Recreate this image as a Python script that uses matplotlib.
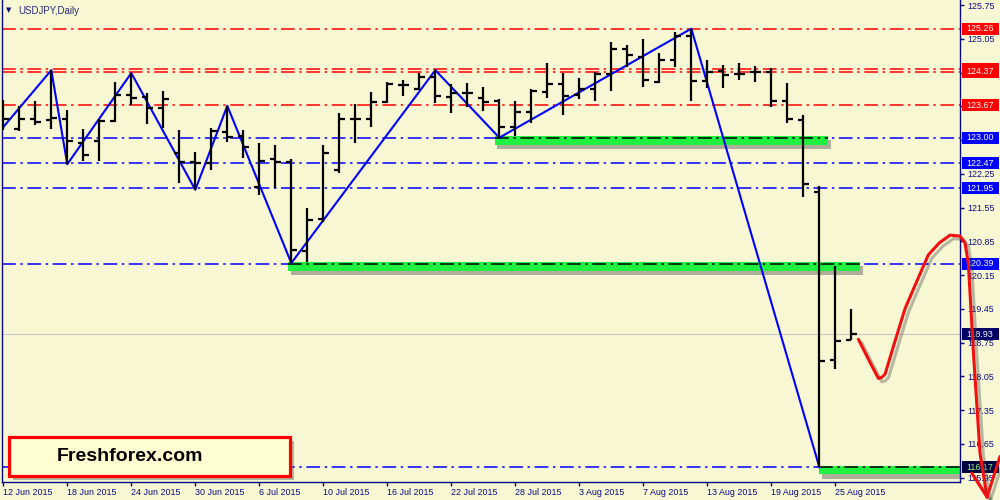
import numpy as np
import matplotlib
matplotlib.use("Agg")
import matplotlib.pyplot as plt
from matplotlib import patches
from matplotlib import patheffects as pe
from matplotlib.transforms import blended_transform_factory

plt.rcParams['font.family'] = ['Liberation Sans', 'DejaVu Sans']

# ---------------- data ----------------
dates = ['12 Jun 2015', '15 Jun 2015', '16 Jun 2015', '17 Jun 2015', '18 Jun 2015', '19 Jun 2015',
         '22 Jun 2015', '23 Jun 2015', '24 Jun 2015', '25 Jun 2015', '26 Jun 2015', '29 Jun 2015',
         '30 Jun 2015', '1 Jul 2015', '2 Jul 2015', '3 Jul 2015', '6 Jul 2015', '7 Jul 2015',
         '8 Jul 2015', '9 Jul 2015', '10 Jul 2015', '13 Jul 2015', '14 Jul 2015', '15 Jul 2015',
         '16 Jul 2015', '17 Jul 2015', '20 Jul 2015', '21 Jul 2015', '22 Jul 2015', '23 Jul 2015',
         '24 Jul 2015', '27 Jul 2015', '28 Jul 2015', '29 Jul 2015', '30 Jul 2015', '31 Jul 2015',
         '3 Aug 2015', '4 Aug 2015', '5 Aug 2015', '6 Aug 2015', '7 Aug 2015', '10 Aug 2015',
         '11 Aug 2015', '12 Aug 2015', '13 Aug 2015', '14 Aug 2015', '17 Aug 2015', '18 Aug 2015',
         '19 Aug 2015', '20 Aug 2015', '21 Aug 2015', '24 Aug 2015', '25 Aug 2015', '26 Aug 2015']

opens = [123.30, 123.18, 123.39, 123.37, 123.38, 122.88, 122.94, 123.35, 123.88, 123.84,
         123.62, 122.69, 122.50, 122.48, 123.12, 123.04, 121.97, 122.55, 122.50, 120.66,
         121.31, 122.33, 123.39, 123.38, 123.74, 124.09, 124.01, 124.26, 123.84, 123.93,
         123.83, 123.77, 123.23, 123.54, 123.95, 124.11, 123.88, 124.01, 124.33, 124.83,
         124.68, 124.15, 124.60, 125.11, 124.17, 124.39, 124.33, 124.37, 124.36, 123.75,
         123.37, 121.87, 118.39, 118.81]
highs = [123.78, 123.66, 123.76, 124.40, 123.57, 123.19, 123.39, 124.15, 124.34, 123.93,
         123.97, 123.16, 122.71, 123.20, 123.66, 123.16, 122.89, 122.85, 122.56, 121.54,
         122.85, 123.51, 123.70, 123.95, 124.15, 124.20, 124.34, 124.40, 124.11, 124.14,
         124.06, 123.80, 123.76, 124.01, 124.55, 124.34, 124.24, 124.36, 124.98, 124.92,
         125.05, 124.76, 125.19, 125.26, 124.61, 124.51, 124.55, 124.49, 124.44, 124.13,
         123.46, 122.00, 120.34, 119.45]
lows = [123.16, 123.14, 123.26, 123.18, 122.45, 122.52, 122.52, 123.33, 123.68, 123.28,
        123.20, 122.06, 121.92, 122.33, 122.92, 122.58, 121.81, 121.96, 120.40, 120.42,
        121.25, 122.27, 122.89, 123.22, 123.72, 123.86, 123.99, 123.72, 123.52, 123.64,
        123.56, 123.00, 123.04, 123.30, 123.83, 123.47, 123.80, 123.75, 123.97, 124.47,
        124.06, 124.13, 124.47, 123.75, 124.02, 124.02, 124.20, 124.15, 123.64, 123.30,
        121.78, 116.17, 118.20, 118.80]
closes = [123.38, 123.38, 123.33, 123.40, 122.94, 122.64, 123.35, 123.88, 123.82, 123.62,
          123.81, 122.50, 122.48, 123.14, 123.02, 122.81, 122.52, 122.50, 120.67, 121.29,
          122.69, 123.39, 123.38, 123.73, 124.11, 124.10, 124.25, 123.87, 123.92, 123.92,
          123.73, 123.23, 123.53, 123.97, 124.11, 123.86, 124.01, 124.33, 124.83, 124.71,
          124.20, 124.60, 125.11, 124.17, 124.36, 124.30, 124.33, 124.37, 123.77, 123.39,
          122.03, 118.38, 118.79, 118.93]

# zigzag pivots (bar index, price)
zz_idx = [0, 3, 4, 8, 12, 14, 18, 27, 31, 43, 51]
zz_price = [123.22, 124.40, 122.45, 124.34, 121.92, 123.66, 120.40, 124.40, 123.00, 125.26, 116.17]

red_levels = [125.26, 124.43, 124.37, 123.67]
blue_levels = [123.00, 122.47, 121.95, 120.39, 116.17]
bid_level = 118.93

zone_start = [30.7, 17.8, 51.0]
zone_end = [51.55, 53.55, 61.0]
zone_level = [123.00, 120.39, 116.17]

# hand-drawn forecast curve (bar index, price)
curve_idx = [53.44, 54.2, 54.69, 54.9, 55.11, 55.7, 56.36, 57.1, 57.81, 58.5, 59.17, 59.79,
             60.10, 60.31, 60.63, 61.04, 61.48]
curve_price = [118.82, 118.32, 118.01, 118.03, 118.10, 118.75, 119.46, 120.03, 120.57, 120.82,
               120.98, 120.96, 120.82, 120.40, 118.54, 116.46, 115.55]
arrow_left = (60.52, 116.05)
arrow_right = (62.29, 116.39)

yticks = [125.75, 125.05, 124.35, 123.65, 122.95, 122.25, 121.55, 120.85, 120.15,
          119.45, 118.75, 118.05, 117.35, 116.65, 115.95]
hidden_ticks = [124.35, 123.65, 122.95]   # covered by the price labels

# ---------------- style ----------------
BG = '#F7F7D3'
NAVY = '#0A0A80'
FS = 6.4

fig = plt.figure(figsize=(10, 5), dpi=100)
fig.patch.set_facecolor(BG)
ax = fig.add_axes([0.002, 0.036, 0.958, 0.964])
ax.set_facecolor(BG)
ax.set_xlim(-0.08, 59.79)
ax.set_ylim(115.862, 125.854)

for s in ['left', 'bottom', 'right']:
    ax.spines[s].set_color(NAVY)
    ax.spines[s].set_linewidth(1.0)
ax.spines['top'].set_visible(False)

dash = (0, (9, 3, 1.6, 3))

# level lines
for lv in red_levels:
    ax.axhline(lv, color='#FF0000', lw=1.1, linestyle=dash, zorder=1)
for lv in blue_levels:
    ax.axhline(lv, color='#0000FF', lw=1.1, linestyle=dash, zorder=1)
ax.axhline(bid_level, color='#C8C8C8', lw=0.8, zorder=1)

# green zones
for s0, s1, lv in zip(zone_start, zone_end, zone_level):
    r = patches.Rectangle((s0, lv - 0.15), s1 - s0, 0.18, facecolor='#20F040',
                          edgecolor='none', zorder=2, clip_on=True,
                          path_effects=[pe.SimplePatchShadow(offset=(2, -3), shadow_rgbFace='#555555', alpha=0.45),
                                        pe.Normal()])
    ax.add_patch(r)
    ax.plot([s0, s1], [lv, lv], color='black', lw=1.1, linestyle=dash, zorder=3)

# zigzag
ax.plot(zz_idx, zz_price, color='#0000FF', lw=1.5, zorder=4)

# OHLC bars
x = np.arange(len(opens))
ax.vlines(x, lows, highs, color='black', lw=1.6, zorder=5)
ax.hlines(opens, x - 0.33, x, color='black', lw=1.6, zorder=5)
ax.hlines(closes, x, x + 0.33, color='black', lw=1.6, zorder=5)

# forecast curve
shadow = [pe.SimpleLineShadow(offset=(2.5, -2.5), shadow_color='#404040', alpha=0.35), pe.Normal()]
ax.plot(curve_idx, curve_price, color='#F01010', lw=2.2, zorder=40, clip_on=False,
        solid_joinstyle='round', solid_capstyle='round', path_effects=shadow)
for p in (arrow_left, arrow_right):
    ax.plot([curve_idx[-1], p[0]], [curve_price[-1], p[1]], color='#F01010', lw=2.2,
            zorder=40, clip_on=False, solid_capstyle='round', path_effects=shadow)

# x axis
tick_pos = list(range(0, len(dates), 4))
ax.set_xticks(tick_pos)
ax.set_xticklabels([dates[i] for i in tick_pos])
for lbl in ax.get_xticklabels():
    lbl.set_horizontalalignment('left')
ax.tick_params(axis='x', colors=NAVY, labelcolor=NAVY, labelsize=FS, length=3, width=1, pad=1.2)

# y axis on right
ax.yaxis.tick_right()
ax.set_yticks(yticks)
ax.set_yticklabels(['' if v in hidden_ticks else f'{v:.2f}' for v in yticks])
ax.tick_params(axis='y', colors=NAVY, labelcolor=NAVY, labelsize=FS, length=3, width=1, pad=2.5)

# price labels on right
tr = blended_transform_factory(ax.transAxes, ax.transData)
box_h = 0.25
lab_x0 = 1.0021
lab_w = 0.0386
zcount = [10]


def price_label(val, face, tcolor='white', show_text=True):
    z = zcount[0]
    zcount[0] += 2
    rect = patches.Rectangle((lab_x0, val - box_h / 2), lab_w, box_h, transform=tr,
                             facecolor=face, edgecolor='none', clip_on=False, zorder=z)
    ax.add_patch(rect)
    if show_text:
        ax.text(1.0071, val, f'{val:.2f}', transform=tr, ha='left', va='center', fontsize=FS,
                color=tcolor, clip_on=False, zorder=z + 1)


price_label(red_levels[0], '#FF0000')
price_label(red_levels[1], '#FF0000', show_text=False)
price_label(red_levels[2], '#FF0000')
price_label(red_levels[3], '#FF0000')
for lv in blue_levels[:-1]:
    price_label(lv, '#0000FF')
price_label(bid_level, '#000066')
price_label(blue_levels[-1], '#000040', '#80FF80')

# title
fig.text(0.006, 0.979, '\u25BC', fontsize=5, color=NAVY, family='DejaVu Sans', va='center')
fig.text(0.018, 0.979, 'USDJPY,Daily', fontsize=6.9, color='#2A2A78', va='center')

# Freshforex box
box = patches.Rectangle((0.0085, 0.048), 0.281, 0.078, transform=fig.transFigure,
                        facecolor='#FFFFD2', edgecolor='#FF0000', lw=2.3, zorder=30,
                        path_effects=[pe.SimplePatchShadow(offset=(3, -3), shadow_rgbFace='#606060', alpha=0.45),
                                      pe.Normal()])
fig.add_artist(box)
fig.text(0.057, 0.087, 'Freshforex.com', fontsize=14, fontweight='bold', color='black',
         va='center', ha='left', zorder=31)

fig.savefig('out.png', dpi=100, facecolor=BG)
